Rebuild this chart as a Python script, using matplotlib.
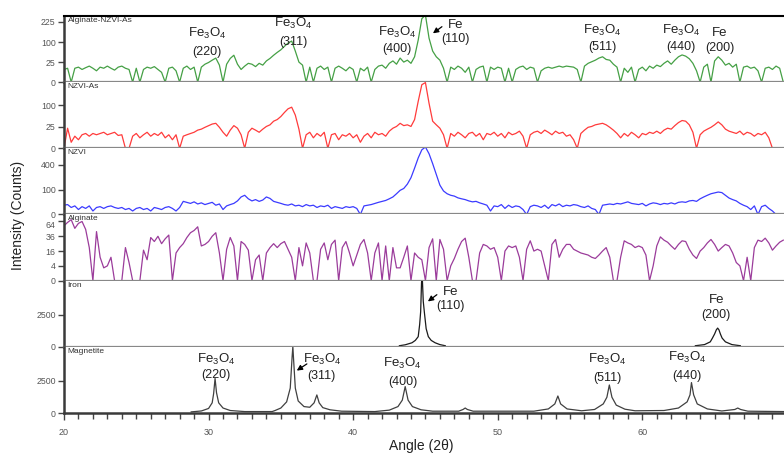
import numpy as np
import matplotlib
matplotlib.use("Agg")
from matplotlib import pyplot as plt
from matplotlib import transforms
from matplotlib.ticker import MultipleLocator

plt.rcParams['font.family'] = ['Liberation Sans', 'DejaVu Sans']
plt.rcParams['mathtext.default'] = 'regular'

# angle grid of the scanned patterns, 0.25 deg steps from 20 to 69.75
angle = np.arange(20, 70, 0.25)

alg_nzvi_as = [10, 12, 0, 12, 14, 10, 13, 16, 12, 8, 14, 12, 16, 12, 9, 14, 16, 12, 10, 0,
               12, 0, 10, 14, 12, 15, 10, 6, 0, 12, 14, 8, 0, 12, 16, 10, 14, 0, 14, 20,
               24, 30, 36, 18, 0, 20, 35, 45, 20, 10, 16, 22, 20, 15, 22, 18, 28, 35, 45, 55,
               65, 80, 95, 105, 60, 25, 18, 0, 14, 0, 12, 16, 10, 14, 0, 12, 16, 12, 8, 14,
               10, 0, 12, 8, 14, 0, 10, 16, 18, 12, 22, 28, 20, 36, 25, 30, 22, 40, 110, 250,
               280, 120, 60, 40, 30, 12, 0, 14, 10, 16, 12, 6, 14, 0, 10, 14, 16, 0, 14, 10,
               14, 12, 0, 12, 0, 10, 14, 16, 10, 14, 12, 0, 8, 12, 14, 12, 14, 16, 14, 16,
               15, 14, 10, 0, 16, 22, 26, 30, 36, 40, 32, 30, 20, 14, 0, 12, 6, 14, 0, 10,
               14, 8, 16, 12, 18, 15, 22, 28, 20, 30, 40, 46, 42, 34, 22, 8, 0, 14, 20, 0,
               28, 40, 30, 18, 22, 14, 20, 0, 14, 16, 12, 14, 8, 0, 12, 14, 10, 16, 12, 0]

nzvi_as = [0, 22, 2, 8, 4, 10, 12, 8, 12, 10, 12, 14, 10, 12, 14, 9, 10, 0, 0, 8,
           12, 6, 10, 14, 8, 12, 9, 14, 6, 10, 4, 10, 0, 8, 10, 12, 14, 18, 20, 24,
           28, 32, 34, 24, 14, 8, 18, 28, 22, 10, 0, 14, 22, 18, 14, 20, 26, 30, 40, 45,
           55, 70, 85, 92, 60, 20, 0, 10, 14, 6, 12, 8, 14, 0, 10, 12, 4, 10, 8, 12,
           6, 10, 2, 8, 12, 6, 14, 10, 12, 8, 16, 22, 26, 34, 28, 30, 26, 45, 120, 220,
           235, 110, 40, 30, 22, 10, 0, 12, 8, 14, 10, 6, 12, 14, 8, 12, 4, 12, 10, 14,
           8, 12, 6, 14, 10, 12, 16, 8, 0, 10, 14, 16, 12, 18, 14, 10, 16, 12, 14, 8,
           10, 4, 0, 12, 18, 24, 26, 30, 32, 34, 30, 24, 18, 12, 6, 12, 8, 14, 10, 6,
           12, 10, 14, 12, 16, 12, 18, 22, 20, 28, 36, 42, 40, 30, 14, 0, 10, 16, 20, 24,
           30, 38, 30, 20, 16, 14, 12, 16, 10, 14, 12, 8, 12, 10, 14, 6, 0, 0, 0, 0]

nzvi = [14, 16, 8, 12, 4, 10, 6, 12, 2, 8, 10, 6, 10, 12, 8, 6, 8, 4, 6, 2,
        6, 8, 4, 6, 2, 8, 6, 4, 8, 10, 6, 2, 8, 28, 24, 20, 26, 18, 22, 16,
        20, 24, 14, 18, 4, 12, 16, 20, 30, 50, 60, 40, 30, 36, 28, 34, 50, 42, 28, 24,
        20, 16, 14, 18, 12, 14, 10, 16, 12, 14, 8, 12, 10, 14, 6, 10, 8, 6, 10, 8,
        10, 6, 0, 12, 14, 16, 20, 24, 28, 32, 40, 50, 70, 95, 110, 150, 220, 350, 520, 680,
        740, 600, 420, 260, 140, 90, 70, 60, 55, 45, 40, 36, 30, 26, 28, 22, 18, 14, 2, 12,
        10, 16, 6, 14, 8, 12, 10, 4, 0, 10, 14, 12, 8, 14, 6, 16, 12, 18, 10, 14,
        12, 16, 14, 10, 8, 12, 6, 4, 0, 14, 16, 18, 16, 20, 18, 22, 26, 20, 18, 16,
        20, 12, 18, 22, 20, 16, 20, 18, 22, 18, 24, 26, 24, 30, 32, 28, 40, 50, 60, 70,
        76, 82, 78, 60, 44, 36, 30, 20, 14, 10, 4, 12, 0, 10, 14, 6, 2, 0, 0, 0]

alginate = [55, 62, 68, 50, 60, 64, 48, 20, 0, 44, 10, 3, 4, 10, 0, 0, 0, 20, 6, 0,
            0, 0, 17, 8, 34, 28, 36, 25, 32, 38, 0, 14, 20, 25, 34, 42, 46, 53, 22, 24,
            28, 36, 42, 14, 0, 18, 34, 22, 0, 28, 24, 17, 0, 8, 12, 0, 14, 20, 25, 20,
            25, 28, 18, 10, 0, 20, 4, 26, 14, 0, 0, 18, 26, 8, 24, 30, 0, 20, 28, 14,
            4, 12, 24, 31, 14, 0, 14, 26, 0, 22, 0, 20, 3, 3, 10, 22, 0, 14, 10, 8,
            0, 20, 32, 0, 31, 18, 0, 4, 9, 18, 28, 33, 10, 0, 0, 14, 24, 22, 18, 20,
            10, 0, 16, 22, 20, 22, 10, 0, 18, 29, 16, 18, 16, 4, 0, 24, 31, 10, 18, 24,
            24, 18, 16, 14, 13, 12, 10, 9, 12, 16, 20, 10, 0, 0, 10, 29, 26, 24, 20, 22,
            20, 12, 0, 4, 22, 35, 30, 27, 22, 18, 24, 29, 28, 18, 12, 9, 16, 20, 26, 31,
            24, 16, 20, 24, 22, 14, 6, 4, 0, 10, 0, 20, 30, 28, 33, 26, 17, 22, 27, 30]

# reference patterns: only the peak regions are drawn
iron_x = [43.2, 43.6, 44.07, 44.3, 44.5, 44.6, 44.67, 44.73, 44.78, 44.85, 44.93, 45.05,
          45.2, 45.4, 45.67, 46.0, 46.37, np.nan,
          63.67, 64.3, 64.7, 64.85, 65.0, 65.12, 65.21, 65.3, 65.4, 65.52, 65.75, 66.2, 66.78]
iron_y = [3, 10, 40, 100, 250, 1200, 3000, 10000, 12000, 5000, 2800, 800,
          250, 100, 40, 12, 3, np.nan,
          3, 12, 60, 185, 400, 700, 850, 700, 400, 185, 60, 12, 3]

mag_x = [28.8, 29.5, 30.0, 30.25, 30.35, 30.45, 30.55, 30.7, 31.0, 31.5, 32.5, 34.4, 34.6,
         35.0, 35.4, 35.65, 35.78, 35.83, 35.88, 36.0, 36.2, 36.6, 37.0, 37.3, 37.49, 37.65,
         37.9, 38.4, 39.2, 41.5, 42.5, 43.1, 43.4, 43.6, 43.8, 44.1, 44.7, 45.5, 47.3, 47.6,
         47.75, 47.9, 48.3, 52.5, 53.5, 53.95, 54.16, 54.35, 54.8, 55.8, 56.7, 57.3, 57.55,
         57.72, 57.9, 58.2, 58.8, 59.5, 61.5, 62.5, 63.1, 63.3, 63.4, 63.55, 63.8, 64.5,
         65.5, 66.4, 66.6, 66.8, 67.3, 69.8]
mag_y = [3, 10, 50, 250, 900, 2900, 1000, 250, 60, 15, 5, 5, 15,
         60, 300, 1500, 7700, 10700, 7000, 1500, 350, 100, 80, 250, 790, 250,
         70, 25, 8, 5, 20, 100, 400, 1690, 400, 100, 25, 8, 8, 30,
         60, 30, 8, 8, 40, 200, 700, 200, 40, 12, 30, 200, 600,
         1900, 600, 150, 35, 12, 15, 60, 300, 800, 2240, 800, 200, 40,
         10, 30, 60, 30, 8, 5]

names = ["Alginate-NZVI-As", "NZVI-As", "NZVI", "Alginate", "Iron", "Magnetite"]
colors = ["#45a045", "#ff3b3b", "#3b3bff", "#9b3c9b", "#1a1a1a", "#404040"]
ytops = [272, 238, 712, 80, 10600, 10600]
yticks = [[0, 25, 100, 225], [0, 25, 100], [0, 100, 400], [0, 4, 16, 36, 64], [0, 2500], [0, 2500]]


def fwd(v):
    return np.sqrt(np.clip(v, 0, None))


def inv(v):
    return np.square(v)


fig, axes = plt.subplots(6, 1, figsize=(7.84, 4.54), dpi=100, sharex=True)
fig.subplots_adjust(left=0.0816, right=1.0, top=0.9648, bottom=0.0903, hspace=0)

series = [(angle, alg_nzvi_as), (angle, nzvi_as), (angle, nzvi), (angle, alginate),
          (iron_x, iron_y), (mag_x, mag_y)]

for i, ax in enumerate(axes):
    x, y = series[i]
    ax.plot(x, y, color=colors[i], lw=0.9)
    ax.set_yscale('function', functions=(fwd, inv))
    ax.set_ylim(0, ytops[i])
    ax.set_yticks(yticks[i])
    ax.set_yticklabels([str(t) for t in yticks[i]])
    ax.set_xlim(20, 69.8)
    ax.tick_params(axis='y', direction='out', length=4, width=1, color='#444444',
                   labelsize=6.3, labelcolor='#555555', pad=2)
    ax.spines['right'].set_visible(False)
    ax.spines['top'].set_visible(i == 0)
    ax.spines['top'].set_linewidth(1.5)
    ax.spines['left'].set_color('#3a3a3a')
    ax.spines['left'].set_linewidth(1.8)
    ax.spines['bottom'].set_color('#888888')
    ax.spines['bottom'].set_linewidth(1.6)
    ax.text(20.25, 0.985, names[i], transform=transforms.blended_transform_factory(ax.transData, ax.transAxes),
            fontsize=6, color='#333333', va='top', ha='left')
    if i < 5:
        ax.tick_params(axis='x', which='both', bottom=False, labelbottom=False)

# the "64" label sits just under the NZVI zero, nudge it down a little
shift = transforms.ScaledTranslation(0, -2 / 72, fig.dpi_scale_trans)
for lab in axes[3].get_yticklabels()[-1:]:
    lab.set_transform(lab.get_transform() + shift)

bot = axes[-1]
bot.spines['bottom'].set_color('#3a3a3a')
bot.spines['bottom'].set_linewidth(1.8)
bot.xaxis.set_major_locator(MultipleLocator(10))
bot.xaxis.set_minor_locator(MultipleLocator(1))
bot.tick_params(axis='x', which='major', direction='out', length=5, width=1, color='#444444',
                labelsize=6.5, labelcolor='#555555', pad=6)
bot.tick_params(axis='x', which='minor', direction='out', length=4, width=1, color='#444444')


def peak_label(ax, x, y1, y2, top, bottom):
    tr = transforms.blended_transform_factory(ax.transData, ax.transAxes)
    ax.text(x, y1, top, transform=tr, ha='center', va='center', fontsize=9.5, color='#222222')
    ax.text(x, y2, bottom, transform=tr, ha='center', va='center', fontsize=9, color='#222222')


def arrow(ax, x0, y0, x1, y1):
    tr = transforms.blended_transform_factory(ax.transData, ax.transAxes)
    ax.annotate("", xy=(x1, y1), xytext=(x0, y0), xycoords=tr, textcoords=tr,
                arrowprops=dict(arrowstyle='-|>', color='black', lw=0.9, mutation_scale=8,
                                shrinkA=0, shrinkB=0))


fe3o4 = "Fe$_3$O$_4$"
ax = axes[0]
peak_label(ax, 29.88, 0.738, 0.459, fe3o4, "(220)")
peak_label(ax, 35.85, 0.889, 0.611, fe3o4, "(311)")
peak_label(ax, 43.05, 0.758, 0.50, fe3o4, "(400)")
peak_label(ax, 47.1, 0.864, 0.652, "Fe", "(110)")
arrow(ax, 46.14, 0.838, 45.52, 0.738)
peak_label(ax, 57.21, 0.777, 0.535, fe3o4, "(511)")
peak_label(ax, 62.68, 0.777, 0.535, fe3o4, "(440)")
peak_label(ax, 65.35, 0.738, 0.52, "Fe", "(200)")

ax = axes[4]
peak_label(ax, 46.76, 0.823, 0.611, "Fe", "(110)")
arrow(ax, 45.79, 0.788, 45.17, 0.686)
peak_label(ax, 65.12, 0.702, 0.485, "Fe", "(200)")

ax = axes[5]
peak_label(ax, 30.52, 0.814, 0.576, fe3o4, "(220)")
peak_label(ax, 37.83, 0.814, 0.561, fe3o4, "(311)")
arrow(ax, 36.8, 0.742, 36.1, 0.641)
peak_label(ax, 43.41, 0.742, 0.474, fe3o4, "(400)")
peak_label(ax, 57.6, 0.814, 0.526, fe3o4, "(511)")
peak_label(ax, 63.09, 0.844, 0.565, fe3o4, "(440)")

fig.text(0.537, 0.018, "Angle (2θ)", ha='center', va='center', fontsize=10, color='#222222')
fig.text(0.023, 0.526, "Intensity (Counts)", ha='center', va='center', rotation=90,
         fontsize=10, color='#222222')

plt.savefig("out.png", dpi=100)
